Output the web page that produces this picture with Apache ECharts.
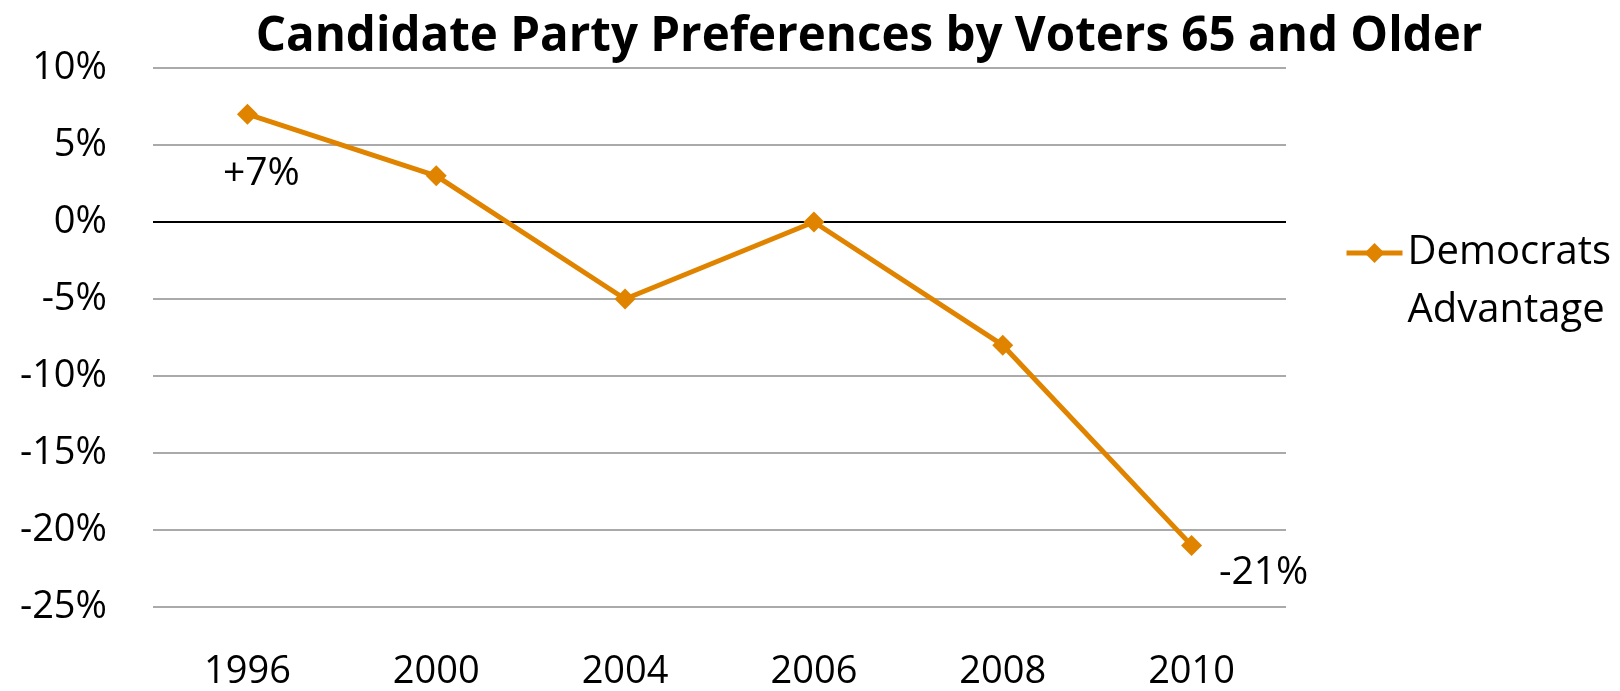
<!DOCTYPE html>
<html>
<head>
<meta charset="utf-8">
<script src="https://cdn.jsdelivr.net/npm/echarts@6/dist/echarts.min.js"></script>
<style>
  html, body { margin: 0; padding: 0; background: #ffffff; }
  #chart { width: 1620px; height: 691px; }
</style>
</head>
<body>
<div id="chart"></div>
<script>
// Election years on the category axis
const years = ['1996', '2000', '2004', '2006', '2008', '2010'];
// Democratic advantage among voters 65+, in percentage points
const democratsAdvantage = [7, 3, -5, 0, -8, -21];
// Points that carry a value label
const labelledYears = ['1996', '2010'];

const seriesName = 'Democrats\nAdvantage';
const orange = '#E08400';
const font = '"Open Sans", Lato, sans-serif';

// Split lines run from -25% upward; the 0% line is drawn in black
const splitColors = [-25, -20, -15, -10, -5, 0, 5, 10].map(v => v === 0 ? '#000000' : '#AAAAAA');

const labelOffsets = {
  '1996': [14, 60],
  '2010': [72, 27]
};

const seriesData = democratsAdvantage.map((v, i) => {
  const item = { value: v };
  if (labelledYears.includes(years[i])) {
    item.label = {
      show: true,
      position: 'inside',
      offset: labelOffsets[years[i]],
      formatter: p => (p.value > 0 ? '+' : '') + p.value + '%',
      fontFamily: font,
      fontSize: 39,
      color: '#000000'
    };
  }
  return item;
});

const chart = echarts.init(document.getElementById('chart'), null, { renderer: 'canvas' });
chart.setOption({
  animation: false,
  backgroundColor: '#ffffff',
  title: {
    text: 'Candidate Party Preferences by Voters 65 and Older',
    left: 869,
    top: 13,
    padding: 0,
    textAlign: 'center',
    textStyle: { fontFamily: font, fontWeight: 'bold', fontSize: 47.5, color: '#000000' }
  },
  legend: {
    left: 1344,
    top: 166,
    padding: 0,
    orient: 'vertical',
    itemWidth: 56,
    itemHeight: 25,
    data: [seriesName],
    // a blank leading line keeps the icon level with the first line of the name
    formatter: name => ' \n' + name,
    lineStyle: { width: 5 },
    textStyle: {
      fontFamily: font,
      fontSize: 40,
      lineHeight: 58,
      color: '#000000'
    }
  },
  grid: { left: 153, right: 334, top: 68, bottom: 80, containLabel: false },
  xAxis: {
    type: 'category',
    data: years,
    boundaryGap: true,
    axisLine: { show: false, onZero: false },
    axisTick: { show: false },
    splitLine: { show: false },
    axisLabel: { fontFamily: font, fontSize: 38, color: '#000000', margin: 46 }
  },
  yAxis: {
    type: 'value',
    min: -25,
    max: 10,
    interval: 5,
    axisLine: { show: false },
    axisTick: { show: false },
    axisLabel: { fontFamily: font, fontSize: 38, color: '#000000', margin: 46, formatter: '{value}%' },
    splitLine: { show: true, lineStyle: { color: splitColors, width: 2 } }
  },
  series: [{
    name: seriesName,
    type: 'line',
    data: seriesData,
    symbol: 'diamond',
    symbolSize: 21,
    itemStyle: { color: orange },
    lineStyle: { color: orange, width: 5 },
    label: { show: false }
  }]
});
</script>
</body>
</html>
